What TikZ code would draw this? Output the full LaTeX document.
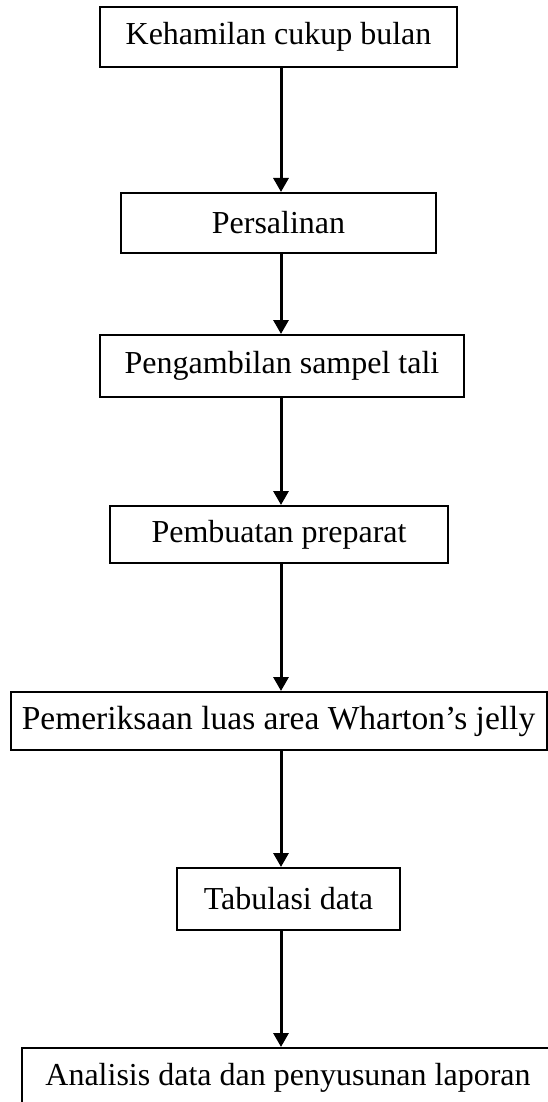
\documentclass[tikz,border=0pt]{standalone}
\usepackage{fontspec}
\setmainfont{Liberation Serif}
\usetikzlibrary{arrows.meta}
\tikzset{
  stepbox/.style={draw,rectangle,line width=2pt,inner sep=0pt,align=center,
    font=\fontsize{32}{38}\selectfont},
  flowarrow/.style={line width=3pt,-{Triangle[width=15pt,length=14pt]}}
}
\begin{document}
\begin{tikzpicture}[x=1pt,y=-1pt]
            \useasboundingbox (0,0) rectangle (547,1102);
            \coordinate (axis) at (281,0);
            \node[stepbox,minimum width=357pt,minimum height=60pt] (hamil) at (278.5,37) {Kehamilan cukup bulan};
            \node[stepbox,minimum width=315pt,minimum height=60pt] (salin) at (278.5,223) {Persalinan};
            \node[stepbox,minimum width=364pt,minimum height=62pt] (sampel) at (282,366) {Pengambilan sampel tali};
            \node[stepbox,minimum width=338pt,minimum height=57pt] (preparat) at (279,534.5) {Pembuatan preparat};
            \node[stepbox,minimum width=536pt,minimum height=58pt,font=\fontsize{33.5}{38}\selectfont] (periksa) at (278.5,721) {Pemeriksaan luas area Wharton’s jelly};
            \node[stepbox,minimum width=223pt,minimum height=62pt] (tabulasi) at (288.5,899) {Tabulasi data};
            \node[stepbox,minimum width=532pt,minimum height=60pt] (analisis) at (288,1078) {Analisis data dan penyusunan laporan};
            \draw[flowarrow] (hamil.south -| axis) -- (salin.north -| axis);
            \draw[flowarrow] (salin.south -| axis) -- (sampel.north -| axis);
            \draw[flowarrow] (sampel.south -| axis) -- (preparat.north -| axis);
            \draw[flowarrow] (preparat.south -| axis) -- (periksa.north -| axis);
            \draw[flowarrow] (periksa.south -| axis) -- (tabulasi.north -| axis);
            \draw[flowarrow] (tabulasi.south -| axis) -- (analisis.north -| axis);
        \end{tikzpicture}
\end{document}
